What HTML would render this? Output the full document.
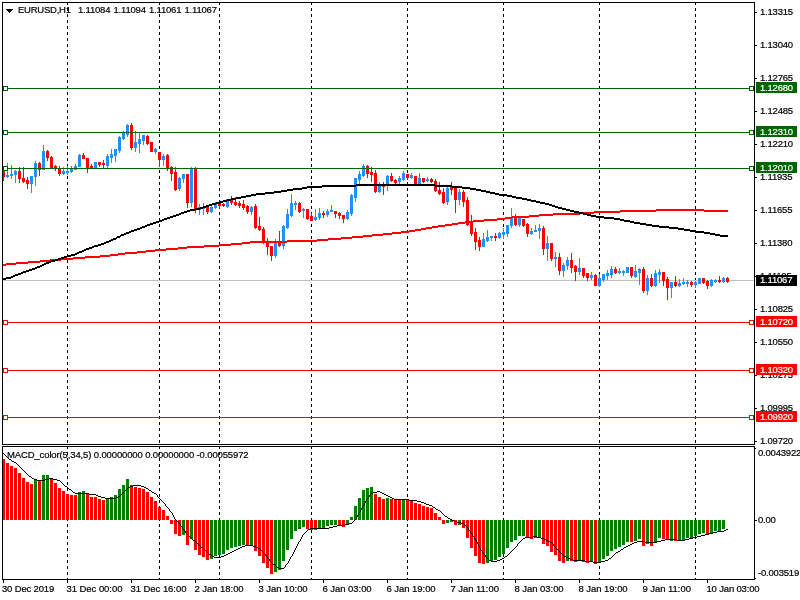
<!DOCTYPE html>
<html><head><meta charset="utf-8"><title>EURUSD,H1</title>
<style>
html,body{margin:0;padding:0;background:#fff;}
body{width:800px;height:600px;position:relative;overflow:hidden;font-family:"Liberation Sans",sans-serif;}
svg{position:absolute;left:0;top:0;}
.t{position:absolute;white-space:nowrap;color:#000;font-size:9.5px;line-height:12px;height:12px;letter-spacing:-0.2px;-webkit-text-stroke:0.2px #000;}
.w{color:#fff;-webkit-text-stroke:0.2px #fff;}
#under{position:absolute;left:0;top:0;width:800px;height:600px;}
</style></head><body>
<div id="under">
<div class="t p" style="left:760px;top:6.4px;">1.13315</div>
<div class="t p" style="left:760px;top:39.4px;">1.13040</div>
<div class="t p" style="left:760px;top:72.4px;">1.12765</div>
<div class="t p" style="left:760px;top:105.4px;">1.12485</div>
<div class="t p" style="left:760px;top:138.4px;">1.12210</div>
<div class="t p" style="left:760px;top:171.4px;">1.11935</div>
<div class="t p" style="left:760px;top:204.4px;">1.11655</div>
<div class="t p" style="left:760px;top:237.4px;">1.11380</div>
<div class="t p" style="left:760px;top:270.4px;">1.11105</div>
<div class="t p" style="left:760px;top:303.4px;">1.10825</div>
<div class="t p" style="left:760px;top:336.4px;">1.10550</div>
<div class="t p" style="left:760px;top:369.4px;">1.10275</div>
<div class="t p" style="left:760px;top:402.4px;">1.09995</div>
<div class="t p" style="left:760px;top:435.4px;">1.09720</div>
<div class="t p" style="left:758px;top:447.4px;">0.0043922</div>
<div class="t p" style="left:758px;top:514.4px;">0.00</div>
<div class="t p" style="left:758px;top:567px;">-0.003519</div>
<div class="t p" style="left:2.0px;top:583px;letter-spacing:-0.17px">30 Dec 2019</div>
<div class="t p" style="left:66.5px;top:583px;letter-spacing:-0.05px">31 Dec 00:00</div>
<div class="t p" style="left:130.5px;top:583px;letter-spacing:-0.05px">31 Dec 16:00</div>
<div class="t p" style="left:194.5px;top:583px;letter-spacing:-0.05px">2 Jan 18:00</div>
<div class="t p" style="left:258.5px;top:583px;letter-spacing:-0.05px">3 Jan 10:00</div>
<div class="t p" style="left:322.5px;top:583px;letter-spacing:-0.05px">6 Jan 03:00</div>
<div class="t p" style="left:386.5px;top:583px;letter-spacing:-0.05px">6 Jan 19:00</div>
<div class="t p" style="left:450.5px;top:583px;letter-spacing:-0.05px">7 Jan 11:00</div>
<div class="t p" style="left:514.5px;top:583px;letter-spacing:-0.05px">8 Jan 03:00</div>
<div class="t p" style="left:578.5px;top:583px;letter-spacing:-0.05px">8 Jan 19:00</div>
<div class="t p" style="left:642.5px;top:583px;letter-spacing:-0.05px">9 Jan 11:00</div>
<div class="t p" style="left:706.5px;top:583px;letter-spacing:-0.17px">10 Jan 03:00</div>
<div class="t p" style="left:18px;top:4px;letter-spacing:-0.24px">EURUSD,H1</div>
<div class="t p" style="left:78px;top:4px;">1.11084</div>
<div class="t p" style="left:113.5px;top:4px;">1.11094</div>
<div class="t p" style="left:149px;top:4px;">1.11061</div>
<div class="t p" style="left:184.5px;top:4px;">1.11067</div>
<div class="t p" style="left:7px;top:449px;letter-spacing:-0.13px">MACD_color(5,34,5) 0.00000000 0.00000000 -0.00055972</div>
</div>
<svg width="800" height="600" viewBox="0 0 800 600" shape-rendering="crispEdges">
<g fill="#000">
<rect x="2" y="2" width="753" height="1"/>
<rect x="2" y="2" width="1" height="443"/>
<rect x="754" y="2" width="1" height="443"/>
<rect x="2" y="444" width="753" height="1"/>
<rect x="2" y="446" width="753" height="1"/>
<rect x="2" y="446" width="1" height="134"/>
<rect x="754" y="446" width="1" height="134"/>
<rect x="2" y="579" width="753" height="1"/>
<rect x="755" y="12" width="2" height="1"/>
<rect x="755" y="45" width="2" height="1"/>
<rect x="755" y="78" width="2" height="1"/>
<rect x="755" y="111" width="2" height="1"/>
<rect x="755" y="144" width="2" height="1"/>
<rect x="755" y="177" width="2" height="1"/>
<rect x="755" y="210" width="2" height="1"/>
<rect x="755" y="243" width="2" height="1"/>
<rect x="755" y="276" width="2" height="1"/>
<rect x="755" y="309" width="2" height="1"/>
<rect x="755" y="342" width="2" height="1"/>
<rect x="755" y="375" width="2" height="1"/>
<rect x="755" y="408" width="2" height="1"/>
<rect x="755" y="441" width="2" height="1"/>
<rect x="755" y="448" width="1" height="1"/>
<rect x="755" y="520" width="2" height="1"/>
<rect x="755" y="578" width="1" height="1"/>
<rect x="3" y="580" width="1" height="3"/>
<rect x="67" y="580" width="1" height="3"/>
<rect x="131" y="580" width="1" height="3"/>
<rect x="195" y="580" width="1" height="3"/>
<rect x="259" y="580" width="1" height="3"/>
<rect x="323" y="580" width="1" height="3"/>
<rect x="387" y="580" width="1" height="3"/>
<rect x="451" y="580" width="1" height="3"/>
<rect x="515" y="580" width="1" height="3"/>
<rect x="579" y="580" width="1" height="3"/>
<rect x="643" y="580" width="1" height="3"/>
<rect x="707" y="580" width="1" height="3"/>
</g>
<g stroke="#000" stroke-width="1" stroke-dasharray="3 3" fill="none">
<line x1="67.5" y1="2" x2="67.5" y2="444"/>
<line x1="67.5" y1="446" x2="67.5" y2="579"/>
<line x1="159.5" y1="2" x2="159.5" y2="444"/>
<line x1="159.5" y1="446" x2="159.5" y2="579"/>
<line x1="219.5" y1="2" x2="219.5" y2="444"/>
<line x1="219.5" y1="446" x2="219.5" y2="579"/>
<line x1="311.5" y1="2" x2="311.5" y2="444"/>
<line x1="311.5" y1="446" x2="311.5" y2="579"/>
<line x1="407.5" y1="2" x2="407.5" y2="444"/>
<line x1="407.5" y1="446" x2="407.5" y2="579"/>
<line x1="503.5" y1="2" x2="503.5" y2="444"/>
<line x1="503.5" y1="446" x2="503.5" y2="579"/>
<line x1="599.5" y1="2" x2="599.5" y2="444"/>
<line x1="599.5" y1="446" x2="599.5" y2="579"/>
<line x1="695.5" y1="2" x2="695.5" y2="444"/>
<line x1="695.5" y1="446" x2="695.5" y2="579"/>
</g>
<rect x="3" y="280" width="751" height="1" fill="#c0c0c0"/>
<g>
<rect x="3" y="169" width="1" height="12" fill="#ff0000"/>
<rect x="3" y="170" width="2" height="7" fill="#ff0000"/>
<rect x="7" y="163" width="1" height="15" fill="#1e90ff"/>
<rect x="6" y="175" width="3" height="2" fill="#1e90ff"/>
<rect x="11" y="165" width="1" height="14" fill="#1e90ff"/>
<rect x="10" y="174" width="3" height="2" fill="#1e90ff"/>
<rect x="15" y="170" width="1" height="13" fill="#1e90ff"/>
<rect x="14" y="171" width="3" height="4" fill="#1e90ff"/>
<rect x="19" y="167" width="1" height="16" fill="#ff0000"/>
<rect x="18" y="171" width="3" height="8" fill="#ff0000"/>
<rect x="23" y="167" width="1" height="16" fill="#ff0000"/>
<rect x="22" y="178" width="3" height="4" fill="#ff0000"/>
<rect x="27" y="177" width="1" height="12" fill="#ff0000"/>
<rect x="26" y="180" width="3" height="4" fill="#ff0000"/>
<rect x="31" y="176" width="1" height="17" fill="#1e90ff"/>
<rect x="30" y="176" width="3" height="8" fill="#1e90ff"/>
<rect x="35" y="161" width="1" height="25" fill="#1e90ff"/>
<rect x="34" y="163" width="3" height="14" fill="#1e90ff"/>
<rect x="39" y="162" width="1" height="14" fill="#ff0000"/>
<rect x="38" y="163" width="3" height="7" fill="#ff0000"/>
<rect x="43" y="145" width="1" height="25" fill="#1e90ff"/>
<rect x="42" y="151" width="3" height="19" fill="#1e90ff"/>
<rect x="47" y="150" width="1" height="11" fill="#ff0000"/>
<rect x="46" y="151" width="3" height="7" fill="#ff0000"/>
<rect x="51" y="156" width="1" height="13" fill="#ff0000"/>
<rect x="50" y="157" width="3" height="12" fill="#ff0000"/>
<rect x="55" y="165" width="1" height="6" fill="#ff0000"/>
<rect x="54" y="166" width="3" height="3" fill="#ff0000"/>
<rect x="59" y="166" width="1" height="10" fill="#ff0000"/>
<rect x="58" y="169" width="3" height="5" fill="#ff0000"/>
<rect x="63" y="167" width="1" height="8" fill="#1e90ff"/>
<rect x="62" y="171" width="3" height="3" fill="#1e90ff"/>
<rect x="67" y="166" width="1" height="9" fill="#1e90ff"/>
<rect x="66" y="171" width="3" height="2" fill="#1e90ff"/>
<rect x="71" y="166" width="1" height="7" fill="#1e90ff"/>
<rect x="70" y="168" width="3" height="4" fill="#1e90ff"/>
<rect x="75" y="164" width="1" height="6" fill="#1e90ff"/>
<rect x="74" y="166" width="3" height="4" fill="#1e90ff"/>
<rect x="79" y="154" width="1" height="13" fill="#1e90ff"/>
<rect x="78" y="155" width="3" height="12" fill="#1e90ff"/>
<rect x="83" y="153" width="1" height="6" fill="#ff0000"/>
<rect x="82" y="155" width="3" height="4" fill="#ff0000"/>
<rect x="87" y="158" width="1" height="15" fill="#ff0000"/>
<rect x="86" y="158" width="3" height="10" fill="#ff0000"/>
<rect x="91" y="164" width="1" height="5" fill="#ff0000"/>
<rect x="90" y="166" width="3" height="2" fill="#ff0000"/>
<rect x="95" y="162" width="1" height="7" fill="#1e90ff"/>
<rect x="94" y="162" width="3" height="6" fill="#1e90ff"/>
<rect x="99" y="162" width="1" height="5" fill="#ff0000"/>
<rect x="98" y="162" width="3" height="3" fill="#ff0000"/>
<rect x="103" y="160" width="1" height="8" fill="#ff0000"/>
<rect x="102" y="163" width="3" height="2" fill="#ff0000"/>
<rect x="107" y="154" width="1" height="14" fill="#1e90ff"/>
<rect x="106" y="156" width="3" height="10" fill="#1e90ff"/>
<rect x="111" y="149" width="1" height="14" fill="#1e90ff"/>
<rect x="110" y="154" width="3" height="4" fill="#1e90ff"/>
<rect x="115" y="149" width="1" height="13" fill="#1e90ff"/>
<rect x="114" y="149" width="3" height="7" fill="#1e90ff"/>
<rect x="119" y="136" width="1" height="17" fill="#1e90ff"/>
<rect x="118" y="137" width="3" height="14" fill="#1e90ff"/>
<rect x="123" y="131" width="1" height="9" fill="#1e90ff"/>
<rect x="122" y="132" width="3" height="7" fill="#1e90ff"/>
<rect x="127" y="124" width="1" height="13" fill="#1e90ff"/>
<rect x="126" y="125" width="3" height="10" fill="#1e90ff"/>
<rect x="131" y="123" width="1" height="27" fill="#ff0000"/>
<rect x="130" y="125" width="3" height="23" fill="#ff0000"/>
<rect x="135" y="131" width="1" height="21" fill="#1e90ff"/>
<rect x="134" y="142" width="3" height="6" fill="#1e90ff"/>
<rect x="139" y="133" width="1" height="20" fill="#1e90ff"/>
<rect x="138" y="139" width="3" height="5" fill="#1e90ff"/>
<rect x="143" y="135" width="1" height="10" fill="#1e90ff"/>
<rect x="142" y="135" width="3" height="6" fill="#1e90ff"/>
<rect x="147" y="135" width="1" height="10" fill="#ff0000"/>
<rect x="146" y="136" width="3" height="8" fill="#ff0000"/>
<rect x="151" y="142" width="1" height="10" fill="#ff0000"/>
<rect x="150" y="142" width="3" height="10" fill="#ff0000"/>
<rect x="155" y="148" width="1" height="6" fill="#1e90ff"/>
<rect x="154" y="149" width="3" height="3" fill="#1e90ff"/>
<rect x="159" y="152" width="1" height="15" fill="#ff0000"/>
<rect x="158" y="152" width="3" height="8" fill="#ff0000"/>
<rect x="163" y="154" width="1" height="12" fill="#1e90ff"/>
<rect x="162" y="156" width="3" height="4" fill="#1e90ff"/>
<rect x="167" y="154" width="1" height="17" fill="#ff0000"/>
<rect x="166" y="155" width="3" height="13" fill="#ff0000"/>
<rect x="171" y="166" width="1" height="15" fill="#ff0000"/>
<rect x="170" y="167" width="3" height="7" fill="#ff0000"/>
<rect x="175" y="167" width="1" height="24" fill="#ff0000"/>
<rect x="174" y="172" width="3" height="18" fill="#ff0000"/>
<rect x="179" y="177" width="1" height="14" fill="#1e90ff"/>
<rect x="178" y="178" width="3" height="11" fill="#1e90ff"/>
<rect x="183" y="174" width="1" height="9" fill="#1e90ff"/>
<rect x="182" y="174" width="3" height="5" fill="#1e90ff"/>
<rect x="187" y="174" width="1" height="34" fill="#ff0000"/>
<rect x="186" y="174" width="3" height="29" fill="#ff0000"/>
<rect x="191" y="167" width="1" height="40" fill="#1e90ff"/>
<rect x="190" y="168" width="3" height="35" fill="#1e90ff"/>
<rect x="195" y="167" width="1" height="46" fill="#ff0000"/>
<rect x="194" y="168" width="3" height="42" fill="#ff0000"/>
<rect x="199" y="204" width="1" height="11" fill="#1e90ff"/>
<rect x="198" y="207" width="3" height="3" fill="#1e90ff"/>
<rect x="203" y="203" width="1" height="12" fill="#1e90ff"/>
<rect x="202" y="207" width="3" height="2" fill="#1e90ff"/>
<rect x="207" y="206" width="1" height="8" fill="#ff0000"/>
<rect x="206" y="207" width="3" height="5" fill="#ff0000"/>
<rect x="211" y="206" width="1" height="7" fill="#1e90ff"/>
<rect x="210" y="207" width="3" height="5" fill="#1e90ff"/>
<rect x="215" y="202" width="1" height="7" fill="#1e90ff"/>
<rect x="214" y="203" width="3" height="5" fill="#1e90ff"/>
<rect x="219" y="202" width="1" height="7" fill="#ff0000"/>
<rect x="218" y="203" width="3" height="3" fill="#ff0000"/>
<rect x="223" y="203" width="1" height="4" fill="#ff0000"/>
<rect x="222" y="204" width="3" height="2" fill="#ff0000"/>
<rect x="227" y="199" width="1" height="9" fill="#1e90ff"/>
<rect x="226" y="199" width="3" height="8" fill="#1e90ff"/>
<rect x="231" y="196" width="1" height="9" fill="#ff0000"/>
<rect x="230" y="199" width="3" height="4" fill="#ff0000"/>
<rect x="235" y="197" width="1" height="9" fill="#ff0000"/>
<rect x="234" y="202" width="3" height="3" fill="#ff0000"/>
<rect x="239" y="201" width="1" height="7" fill="#ff0000"/>
<rect x="238" y="203" width="3" height="3" fill="#ff0000"/>
<rect x="243" y="200" width="1" height="10" fill="#ff0000"/>
<rect x="242" y="204" width="3" height="4" fill="#ff0000"/>
<rect x="247" y="205" width="1" height="9" fill="#ff0000"/>
<rect x="246" y="206" width="3" height="6" fill="#ff0000"/>
<rect x="251" y="206" width="1" height="9" fill="#1e90ff"/>
<rect x="250" y="207" width="3" height="5" fill="#1e90ff"/>
<rect x="255" y="204" width="1" height="25" fill="#ff0000"/>
<rect x="254" y="206" width="3" height="22" fill="#ff0000"/>
<rect x="259" y="217" width="1" height="14" fill="#ff0000"/>
<rect x="258" y="226" width="3" height="4" fill="#ff0000"/>
<rect x="263" y="227" width="1" height="17" fill="#ff0000"/>
<rect x="262" y="229" width="3" height="14" fill="#ff0000"/>
<rect x="267" y="238" width="1" height="17" fill="#ff0000"/>
<rect x="266" y="242" width="3" height="5" fill="#ff0000"/>
<rect x="271" y="246" width="1" height="15" fill="#ff0000"/>
<rect x="270" y="246" width="3" height="10" fill="#ff0000"/>
<rect x="275" y="239" width="1" height="19" fill="#1e90ff"/>
<rect x="274" y="243" width="3" height="13" fill="#1e90ff"/>
<rect x="279" y="231" width="1" height="16" fill="#ff0000"/>
<rect x="278" y="243" width="3" height="3" fill="#ff0000"/>
<rect x="283" y="225" width="1" height="24" fill="#1e90ff"/>
<rect x="282" y="226" width="3" height="20" fill="#1e90ff"/>
<rect x="287" y="209" width="1" height="20" fill="#1e90ff"/>
<rect x="286" y="214" width="3" height="14" fill="#1e90ff"/>
<rect x="291" y="194" width="1" height="23" fill="#1e90ff"/>
<rect x="290" y="203" width="3" height="13" fill="#1e90ff"/>
<rect x="295" y="201" width="1" height="9" fill="#1e90ff"/>
<rect x="294" y="203" width="3" height="2" fill="#1e90ff"/>
<rect x="299" y="202" width="1" height="11" fill="#ff0000"/>
<rect x="298" y="203" width="3" height="9" fill="#ff0000"/>
<rect x="303" y="208" width="1" height="10" fill="#1e90ff"/>
<rect x="302" y="209" width="3" height="2" fill="#1e90ff"/>
<rect x="307" y="209" width="1" height="11" fill="#ff0000"/>
<rect x="306" y="209" width="3" height="10" fill="#ff0000"/>
<rect x="311" y="213" width="1" height="8" fill="#ff0000"/>
<rect x="310" y="216" width="3" height="5" fill="#ff0000"/>
<rect x="315" y="209" width="1" height="12" fill="#1e90ff"/>
<rect x="314" y="217" width="3" height="3" fill="#1e90ff"/>
<rect x="319" y="208" width="1" height="12" fill="#1e90ff"/>
<rect x="318" y="213" width="3" height="5" fill="#1e90ff"/>
<rect x="323" y="211" width="1" height="7" fill="#ff0000"/>
<rect x="322" y="213" width="3" height="2" fill="#ff0000"/>
<rect x="327" y="209" width="1" height="8" fill="#1e90ff"/>
<rect x="326" y="211" width="3" height="4" fill="#1e90ff"/>
<rect x="331" y="205" width="1" height="7" fill="#1e90ff"/>
<rect x="330" y="210" width="3" height="2" fill="#1e90ff"/>
<rect x="335" y="211" width="1" height="7" fill="#ff0000"/>
<rect x="334" y="211" width="3" height="3" fill="#ff0000"/>
<rect x="339" y="212" width="1" height="7" fill="#ff0000"/>
<rect x="338" y="213" width="3" height="3" fill="#ff0000"/>
<rect x="343" y="215" width="1" height="8" fill="#ff0000"/>
<rect x="342" y="215" width="3" height="4" fill="#ff0000"/>
<rect x="347" y="210" width="1" height="10" fill="#1e90ff"/>
<rect x="346" y="212" width="3" height="7" fill="#1e90ff"/>
<rect x="351" y="194" width="1" height="22" fill="#1e90ff"/>
<rect x="350" y="195" width="3" height="19" fill="#1e90ff"/>
<rect x="355" y="178" width="1" height="24" fill="#1e90ff"/>
<rect x="354" y="178" width="3" height="20" fill="#1e90ff"/>
<rect x="359" y="171" width="1" height="13" fill="#1e90ff"/>
<rect x="358" y="174" width="3" height="6" fill="#1e90ff"/>
<rect x="363" y="164" width="1" height="13" fill="#1e90ff"/>
<rect x="362" y="166" width="3" height="10" fill="#1e90ff"/>
<rect x="367" y="165" width="1" height="13" fill="#ff0000"/>
<rect x="366" y="166" width="3" height="8" fill="#ff0000"/>
<rect x="371" y="167" width="1" height="15" fill="#ff0000"/>
<rect x="370" y="172" width="3" height="3" fill="#ff0000"/>
<rect x="375" y="170" width="1" height="23" fill="#ff0000"/>
<rect x="374" y="173" width="3" height="19" fill="#ff0000"/>
<rect x="379" y="182" width="1" height="11" fill="#1e90ff"/>
<rect x="378" y="186" width="3" height="6" fill="#1e90ff"/>
<rect x="383" y="182" width="1" height="13" fill="#ff0000"/>
<rect x="382" y="184" width="3" height="3" fill="#ff0000"/>
<rect x="387" y="175" width="1" height="16" fill="#1e90ff"/>
<rect x="386" y="176" width="3" height="10" fill="#1e90ff"/>
<rect x="391" y="173" width="1" height="9" fill="#ff0000"/>
<rect x="390" y="176" width="3" height="5" fill="#ff0000"/>
<rect x="395" y="179" width="1" height="6" fill="#ff0000"/>
<rect x="394" y="180" width="3" height="3" fill="#ff0000"/>
<rect x="399" y="176" width="1" height="9" fill="#1e90ff"/>
<rect x="398" y="178" width="3" height="4" fill="#1e90ff"/>
<rect x="403" y="171" width="1" height="10" fill="#1e90ff"/>
<rect x="402" y="173" width="3" height="7" fill="#1e90ff"/>
<rect x="407" y="174" width="1" height="6" fill="#ff0000"/>
<rect x="406" y="174" width="3" height="4" fill="#ff0000"/>
<rect x="411" y="173" width="1" height="6" fill="#1e90ff"/>
<rect x="410" y="175" width="3" height="3" fill="#1e90ff"/>
<rect x="415" y="176" width="1" height="9" fill="#ff0000"/>
<rect x="414" y="176" width="3" height="8" fill="#ff0000"/>
<rect x="419" y="173" width="1" height="11" fill="#1e90ff"/>
<rect x="418" y="178" width="3" height="6" fill="#1e90ff"/>
<rect x="423" y="178" width="1" height="5" fill="#ff0000"/>
<rect x="422" y="178" width="3" height="4" fill="#ff0000"/>
<rect x="427" y="177" width="1" height="5" fill="#1e90ff"/>
<rect x="426" y="179" width="3" height="2" fill="#1e90ff"/>
<rect x="431" y="178" width="1" height="5" fill="#ff0000"/>
<rect x="430" y="179" width="3" height="3" fill="#ff0000"/>
<rect x="435" y="179" width="1" height="13" fill="#ff0000"/>
<rect x="434" y="181" width="3" height="10" fill="#ff0000"/>
<rect x="439" y="182" width="1" height="13" fill="#ff0000"/>
<rect x="438" y="190" width="3" height="4" fill="#ff0000"/>
<rect x="443" y="188" width="1" height="16" fill="#ff0000"/>
<rect x="442" y="192" width="3" height="11" fill="#ff0000"/>
<rect x="447" y="185" width="1" height="20" fill="#1e90ff"/>
<rect x="446" y="188" width="3" height="14" fill="#1e90ff"/>
<rect x="451" y="182" width="1" height="13" fill="#ff0000"/>
<rect x="450" y="186" width="3" height="4" fill="#ff0000"/>
<rect x="455" y="187" width="1" height="26" fill="#ff0000"/>
<rect x="454" y="187" width="3" height="13" fill="#ff0000"/>
<rect x="459" y="189" width="1" height="16" fill="#1e90ff"/>
<rect x="458" y="192" width="3" height="8" fill="#1e90ff"/>
<rect x="463" y="190" width="1" height="17" fill="#ff0000"/>
<rect x="462" y="192" width="3" height="10" fill="#ff0000"/>
<rect x="467" y="197" width="1" height="29" fill="#ff0000"/>
<rect x="466" y="200" width="3" height="25" fill="#ff0000"/>
<rect x="471" y="215" width="1" height="21" fill="#ff0000"/>
<rect x="470" y="222" width="3" height="12" fill="#ff0000"/>
<rect x="475" y="228" width="1" height="22" fill="#ff0000"/>
<rect x="474" y="232" width="3" height="10" fill="#ff0000"/>
<rect x="479" y="237" width="1" height="14" fill="#ff0000"/>
<rect x="478" y="240" width="3" height="7" fill="#ff0000"/>
<rect x="483" y="233" width="1" height="14" fill="#1e90ff"/>
<rect x="482" y="239" width="3" height="8" fill="#1e90ff"/>
<rect x="487" y="230" width="1" height="12" fill="#1e90ff"/>
<rect x="486" y="237" width="3" height="4" fill="#1e90ff"/>
<rect x="491" y="236" width="1" height="5" fill="#1e90ff"/>
<rect x="490" y="236" width="3" height="2" fill="#1e90ff"/>
<rect x="495" y="233" width="1" height="8" fill="#ff0000"/>
<rect x="494" y="236" width="3" height="2" fill="#ff0000"/>
<rect x="499" y="232" width="1" height="7" fill="#1e90ff"/>
<rect x="498" y="233" width="3" height="5" fill="#1e90ff"/>
<rect x="503" y="228" width="1" height="11" fill="#1e90ff"/>
<rect x="502" y="232" width="3" height="3" fill="#1e90ff"/>
<rect x="507" y="225" width="1" height="12" fill="#1e90ff"/>
<rect x="506" y="225" width="3" height="9" fill="#1e90ff"/>
<rect x="511" y="208" width="1" height="20" fill="#1e90ff"/>
<rect x="510" y="218" width="3" height="8" fill="#1e90ff"/>
<rect x="515" y="214" width="1" height="12" fill="#ff0000"/>
<rect x="514" y="218" width="3" height="7" fill="#ff0000"/>
<rect x="519" y="216" width="1" height="11" fill="#1e90ff"/>
<rect x="518" y="218" width="3" height="7" fill="#1e90ff"/>
<rect x="523" y="219" width="1" height="8" fill="#ff0000"/>
<rect x="522" y="219" width="3" height="7" fill="#ff0000"/>
<rect x="527" y="223" width="1" height="14" fill="#ff0000"/>
<rect x="526" y="224" width="3" height="10" fill="#ff0000"/>
<rect x="531" y="228" width="1" height="7" fill="#1e90ff"/>
<rect x="530" y="231" width="3" height="3" fill="#1e90ff"/>
<rect x="535" y="225" width="1" height="7" fill="#1e90ff"/>
<rect x="534" y="230" width="3" height="2" fill="#1e90ff"/>
<rect x="539" y="224" width="1" height="15" fill="#1e90ff"/>
<rect x="538" y="228" width="3" height="3" fill="#1e90ff"/>
<rect x="543" y="226" width="1" height="29" fill="#ff0000"/>
<rect x="542" y="228" width="3" height="21" fill="#ff0000"/>
<rect x="547" y="236" width="1" height="25" fill="#1e90ff"/>
<rect x="546" y="243" width="3" height="6" fill="#1e90ff"/>
<rect x="551" y="243" width="1" height="18" fill="#ff0000"/>
<rect x="550" y="243" width="3" height="16" fill="#ff0000"/>
<rect x="555" y="252" width="1" height="15" fill="#1e90ff"/>
<rect x="554" y="257" width="3" height="2" fill="#1e90ff"/>
<rect x="559" y="253" width="1" height="22" fill="#ff0000"/>
<rect x="558" y="257" width="3" height="14" fill="#ff0000"/>
<rect x="563" y="263" width="1" height="14" fill="#1e90ff"/>
<rect x="562" y="265" width="3" height="6" fill="#1e90ff"/>
<rect x="567" y="257" width="1" height="13" fill="#1e90ff"/>
<rect x="566" y="260" width="3" height="6" fill="#1e90ff"/>
<rect x="571" y="253" width="1" height="20" fill="#ff0000"/>
<rect x="570" y="260" width="3" height="8" fill="#ff0000"/>
<rect x="575" y="265" width="1" height="16" fill="#ff0000"/>
<rect x="574" y="266" width="3" height="6" fill="#ff0000"/>
<rect x="579" y="258" width="1" height="17" fill="#1e90ff"/>
<rect x="578" y="268" width="3" height="4" fill="#1e90ff"/>
<rect x="583" y="268" width="1" height="10" fill="#ff0000"/>
<rect x="582" y="268" width="3" height="8" fill="#ff0000"/>
<rect x="587" y="273" width="1" height="8" fill="#ff0000"/>
<rect x="586" y="273" width="3" height="5" fill="#ff0000"/>
<rect x="591" y="272" width="1" height="8" fill="#1e90ff"/>
<rect x="590" y="275" width="3" height="3" fill="#1e90ff"/>
<rect x="595" y="274" width="1" height="12" fill="#ff0000"/>
<rect x="594" y="275" width="3" height="11" fill="#ff0000"/>
<rect x="599" y="274" width="1" height="13" fill="#1e90ff"/>
<rect x="598" y="278" width="3" height="8" fill="#1e90ff"/>
<rect x="603" y="274" width="1" height="8" fill="#1e90ff"/>
<rect x="602" y="274" width="3" height="6" fill="#1e90ff"/>
<rect x="607" y="270" width="1" height="10" fill="#1e90ff"/>
<rect x="606" y="273" width="3" height="3" fill="#1e90ff"/>
<rect x="611" y="266" width="1" height="12" fill="#1e90ff"/>
<rect x="610" y="269" width="3" height="6" fill="#1e90ff"/>
<rect x="615" y="267" width="1" height="7" fill="#ff0000"/>
<rect x="614" y="269" width="3" height="4" fill="#ff0000"/>
<rect x="619" y="268" width="1" height="6" fill="#1e90ff"/>
<rect x="618" y="271" width="3" height="2" fill="#1e90ff"/>
<rect x="623" y="270" width="1" height="6" fill="#1e90ff"/>
<rect x="622" y="271" width="3" height="2" fill="#1e90ff"/>
<rect x="627" y="267" width="1" height="6" fill="#1e90ff"/>
<rect x="626" y="267" width="3" height="6" fill="#1e90ff"/>
<rect x="631" y="267" width="1" height="11" fill="#ff0000"/>
<rect x="630" y="267" width="3" height="9" fill="#ff0000"/>
<rect x="635" y="265" width="1" height="13" fill="#1e90ff"/>
<rect x="634" y="271" width="3" height="6" fill="#1e90ff"/>
<rect x="639" y="268" width="1" height="17" fill="#1e90ff"/>
<rect x="638" y="269" width="3" height="4" fill="#1e90ff"/>
<rect x="643" y="267" width="1" height="26" fill="#ff0000"/>
<rect x="642" y="269" width="3" height="22" fill="#ff0000"/>
<rect x="647" y="275" width="1" height="20" fill="#1e90ff"/>
<rect x="646" y="278" width="3" height="13" fill="#1e90ff"/>
<rect x="651" y="274" width="1" height="13" fill="#ff0000"/>
<rect x="650" y="278" width="3" height="8" fill="#ff0000"/>
<rect x="655" y="270" width="1" height="17" fill="#1e90ff"/>
<rect x="654" y="273" width="3" height="13" fill="#1e90ff"/>
<rect x="659" y="269" width="1" height="14" fill="#1e90ff"/>
<rect x="658" y="272" width="3" height="3" fill="#1e90ff"/>
<rect x="663" y="272" width="1" height="14" fill="#ff0000"/>
<rect x="662" y="272" width="3" height="9" fill="#ff0000"/>
<rect x="667" y="277" width="1" height="23" fill="#ff0000"/>
<rect x="666" y="279" width="3" height="9" fill="#ff0000"/>
<rect x="671" y="282" width="1" height="16" fill="#1e90ff"/>
<rect x="670" y="282" width="3" height="6" fill="#1e90ff"/>
<rect x="675" y="276" width="1" height="11" fill="#ff0000"/>
<rect x="674" y="282" width="3" height="4" fill="#ff0000"/>
<rect x="679" y="279" width="1" height="8" fill="#1e90ff"/>
<rect x="678" y="283" width="3" height="3" fill="#1e90ff"/>
<rect x="683" y="278" width="1" height="7" fill="#1e90ff"/>
<rect x="682" y="282" width="3" height="2" fill="#1e90ff"/>
<rect x="687" y="280" width="1" height="7" fill="#1e90ff"/>
<rect x="686" y="282" width="3" height="2" fill="#1e90ff"/>
<rect x="691" y="281" width="1" height="6" fill="#ff0000"/>
<rect x="690" y="282" width="3" height="3" fill="#ff0000"/>
<rect x="695" y="281" width="1" height="7" fill="#1e90ff"/>
<rect x="694" y="282" width="3" height="3" fill="#1e90ff"/>
<rect x="699" y="278" width="1" height="6" fill="#1e90ff"/>
<rect x="698" y="278" width="3" height="6" fill="#1e90ff"/>
<rect x="703" y="278" width="1" height="6" fill="#ff0000"/>
<rect x="702" y="278" width="3" height="5" fill="#ff0000"/>
<rect x="707" y="280" width="1" height="9" fill="#ff0000"/>
<rect x="706" y="281" width="3" height="5" fill="#ff0000"/>
<rect x="711" y="279" width="1" height="8" fill="#1e90ff"/>
<rect x="710" y="280" width="3" height="6" fill="#1e90ff"/>
<rect x="715" y="279" width="1" height="4" fill="#1e90ff"/>
<rect x="714" y="280" width="3" height="2" fill="#1e90ff"/>
<rect x="719" y="276" width="1" height="7" fill="#ff0000"/>
<rect x="718" y="280" width="3" height="2" fill="#ff0000"/>
<rect x="723" y="277" width="1" height="6" fill="#1e90ff"/>
<rect x="722" y="278" width="3" height="4" fill="#1e90ff"/>
<rect x="727" y="277" width="1" height="6" fill="#ff0000"/>
<rect x="726" y="278" width="3" height="4" fill="#ff0000"/>
</g>
<path d="M3 264h3v2h-3zM6 263h10v2h-10zM16 262h12v2h-12zM28 261h12v2h-12zM40 260h10v2h-10zM50 259h11v2h-11zM61 258h12v2h-12zM73 257h12v2h-12zM85 256h15v2h-15zM100 255h10v2h-10zM110 254h8v2h-8zM118 253h7v2h-7zM125 252h12v2h-12zM137 251h9v2h-9zM146 250h9v2h-9zM155 249h11v2h-11zM166 248h12v2h-12zM178 247h9v2h-9zM187 246h17v2h-17zM204 245h15v2h-15zM219 244h12v2h-12zM231 243h11v2h-11zM242 242h8v2h-8zM250 241h37v2h-37zM287 240h30v2h-30zM317 239h11v2h-11zM328 238h13v2h-13zM341 237h11v2h-11zM352 236h11v2h-11zM363 235h9v2h-9zM372 234h11v2h-11zM383 233h9v2h-9zM392 232h9v2h-9zM401 231h8v2h-8zM409 230h6v2h-6zM415 229h6v2h-6zM421 228h5v2h-5zM426 227h6v2h-6zM432 226h6v2h-6zM438 225h7v2h-7zM445 224h7v2h-7zM452 223h6v2h-6zM458 222h7v2h-7zM465 221h8v2h-8zM473 220h11v2h-11zM484 219h13v2h-13zM497 218h8v2h-8zM505 217h7v2h-7zM512 216h17v2h-17zM529 215h10v2h-10zM539 214h14v2h-14zM553 213h27v2h-27zM580 212h14v2h-14zM594 211h26v2h-26zM620 210h36v2h-36zM656 209h48v2h-48zM704 210h24v2h-24z" fill="#ff0000"/>
<path d="M3 278h3v2h-3zM6 277h5v2h-5zM11 276h2v2h-2zM13 275h2v2h-2zM15 274h3v2h-3zM18 273h3v2h-3zM21 272h2v2h-2zM23 271h3v2h-3zM26 270h3v2h-3zM29 269h3v2h-3zM32 268h3v2h-3zM35 267h2v2h-2zM37 266h3v2h-3zM40 265h2v2h-2zM42 264h2v2h-2zM44 263h2v2h-2zM46 262h3v2h-3zM49 261h2v2h-2zM51 260h4v2h-4zM55 259h3v2h-3zM58 258h3v2h-3zM61 257h3v2h-3zM64 256h3v2h-3zM67 255h4v2h-4zM71 254h4v2h-4zM75 253h2v2h-2zM77 252h2v2h-2zM79 251h3v2h-3zM82 250h2v2h-2zM84 249h2v2h-2zM86 248h3v2h-3zM89 247h3v2h-3zM92 246h2v2h-2zM94 245h4v2h-4zM98 244h3v2h-3zM101 243h3v2h-3zM104 242h2v2h-2zM106 241h3v2h-3zM109 240h2v2h-2zM111 239h2v2h-2zM113 238h3v2h-3zM116 237h1v2h-1zM117 236h3v2h-3zM120 235h1v2h-1zM121 234h3v2h-3zM124 233h2v2h-2zM126 232h3v2h-3zM129 231h2v2h-2zM131 230h3v2h-3zM134 229h3v2h-3zM137 228h3v2h-3zM140 227h2v2h-2zM142 226h3v2h-3zM145 225h2v2h-2zM147 224h3v2h-3zM150 223h3v2h-3zM153 222h3v2h-3zM156 221h3v2h-3zM159 220h3v2h-3zM162 219h2v2h-2zM164 218h3v2h-3zM167 217h3v2h-3zM170 216h3v2h-3zM173 215h3v2h-3zM176 214h3v2h-3zM179 213h2v2h-2zM181 212h3v2h-3zM184 211h3v2h-3zM187 210h3v2h-3zM190 209h5v2h-5zM195 208h5v2h-5zM200 207h3v2h-3zM203 206h3v2h-3zM206 205h3v2h-3zM209 204h3v2h-3zM212 203h4v2h-4zM216 202h4v2h-4zM220 201h3v2h-3zM223 200h4v2h-4zM227 199h4v2h-4zM231 198h5v2h-5zM236 197h5v2h-5zM241 196h5v2h-5zM246 195h5v2h-5zM251 194h5v2h-5zM256 193h9v2h-9zM265 192h9v2h-9zM274 191h7v2h-7zM281 190h6v2h-6zM287 189h6v2h-6zM293 188h9v2h-9zM302 187h5v2h-5zM307 186h15v2h-15zM322 185h34v2h-34zM356 184h79v2h-79zM435 185h17v2h-17zM452 186h10v2h-10zM462 187h8v2h-8zM470 188h6v2h-6zM476 189h5v2h-5zM481 190h5v2h-5zM486 191h4v2h-4zM490 192h5v2h-5zM495 193h4v2h-4zM499 194h8v2h-8zM507 195h5v2h-5zM512 196h4v2h-4zM516 197h6v2h-6zM522 198h5v2h-5zM527 199h4v2h-4zM531 200h5v2h-5zM536 201h4v2h-4zM540 202h5v2h-5zM545 203h4v2h-4zM549 204h3v2h-3zM552 205h3v2h-3zM555 206h3v2h-3zM558 207h4v2h-4zM562 208h4v2h-4zM566 209h4v2h-4zM570 210h4v2h-4zM574 211h5v2h-5zM579 212h4v2h-4zM583 213h4v2h-4zM587 214h4v2h-4zM591 215h5v2h-5zM596 216h8v2h-8zM604 217h10v2h-10zM614 218h6v2h-6zM620 219h4v2h-4zM624 220h6v2h-6zM630 221h4v2h-4zM634 222h6v2h-6zM640 223h6v2h-6zM646 224h6v2h-6zM652 225h7v2h-7zM659 226h10v2h-10zM669 227h9v2h-9zM678 228h6v2h-6zM684 229h6v2h-6zM690 230h5v2h-5zM695 231h9v2h-9zM704 232h6v2h-6zM710 233h5v2h-5zM715 234h5v2h-5zM720 235h8v2h-8z" fill="#000"/>
<rect x="3" y="88" width="751" height="1" fill="#006400"/>
<rect x="3.5" y="86.5" width="4" height="4" fill="#fff" stroke="#006400" stroke-width="1"/>
<rect x="749.5" y="86.5" width="4" height="4" fill="#fff" stroke="#006400" stroke-width="1"/>
<rect x="756" y="82" width="41" height="11" fill="#006400"/>
<rect x="3" y="132" width="751" height="1" fill="#006400"/>
<rect x="3.5" y="130.5" width="4" height="4" fill="#fff" stroke="#006400" stroke-width="1"/>
<rect x="749.5" y="130.5" width="4" height="4" fill="#fff" stroke="#006400" stroke-width="1"/>
<rect x="756" y="126" width="41" height="11" fill="#006400"/>
<rect x="3" y="168" width="751" height="1" fill="#006400"/>
<rect x="3.5" y="166.5" width="4" height="4" fill="#fff" stroke="#006400" stroke-width="1"/>
<rect x="749.5" y="166.5" width="4" height="4" fill="#fff" stroke="#006400" stroke-width="1"/>
<rect x="756" y="162" width="41" height="11" fill="#006400"/>
<rect x="3" y="322" width="751" height="1" fill="#ff0000"/>
<rect x="3.5" y="320.5" width="4" height="4" fill="#fff" stroke="#ff0000" stroke-width="1"/>
<rect x="749.5" y="320.5" width="4" height="4" fill="#fff" stroke="#ff0000" stroke-width="1"/>
<rect x="756" y="316" width="41" height="11" fill="#ff0000"/>
<rect x="3" y="370" width="751" height="1" fill="#ff0000"/>
<rect x="3.5" y="368.5" width="4" height="4" fill="#fff" stroke="#ff0000" stroke-width="1"/>
<rect x="749.5" y="368.5" width="4" height="4" fill="#fff" stroke="#ff0000" stroke-width="1"/>
<rect x="756" y="364" width="41" height="11" fill="#ff0000"/>
<rect x="3" y="417" width="751" height="1" fill="#ff0000"/>
<rect x="3.5" y="415.5" width="4" height="4" fill="#fff" stroke="#ff0000" stroke-width="1"/>
<rect x="749.5" y="415.5" width="4" height="4" fill="#fff" stroke="#ff0000" stroke-width="1"/>
<rect x="756" y="411" width="41" height="11" fill="#ff0000"/>
<rect x="756" y="275" width="41" height="11" fill="#000"/>
<g>
<rect x="3" y="459" width="2" height="61" fill="#ff0000"/>
<rect x="6" y="463" width="3" height="57" fill="#ff0000"/>
<rect x="10" y="466" width="3" height="54" fill="#ff0000"/>
<rect x="14" y="468" width="3" height="52" fill="#ff0000"/>
<rect x="18" y="473" width="3" height="47" fill="#ff0000"/>
<rect x="22" y="478" width="3" height="42" fill="#ff0000"/>
<rect x="26" y="482" width="3" height="38" fill="#ff0000"/>
<rect x="30" y="484" width="3" height="36" fill="#ff0000"/>
<rect x="34" y="480" width="3" height="40" fill="#008000"/>
<rect x="38" y="481" width="3" height="39" fill="#ff0000"/>
<rect x="42" y="475" width="3" height="45" fill="#008000"/>
<rect x="46" y="475" width="3" height="45" fill="#008000"/>
<rect x="50" y="478" width="3" height="42" fill="#ff0000"/>
<rect x="54" y="483" width="3" height="37" fill="#ff0000"/>
<rect x="58" y="488" width="3" height="32" fill="#ff0000"/>
<rect x="62" y="491" width="3" height="29" fill="#ff0000"/>
<rect x="66" y="494" width="3" height="26" fill="#ff0000"/>
<rect x="70" y="495" width="3" height="25" fill="#ff0000"/>
<rect x="74" y="495" width="3" height="25" fill="#ff0000"/>
<rect x="78" y="492" width="3" height="28" fill="#008000"/>
<rect x="82" y="491" width="3" height="29" fill="#008000"/>
<rect x="86" y="493" width="3" height="27" fill="#ff0000"/>
<rect x="90" y="497" width="3" height="23" fill="#ff0000"/>
<rect x="94" y="497" width="3" height="23" fill="#ff0000"/>
<rect x="98" y="499" width="3" height="21" fill="#ff0000"/>
<rect x="102" y="500" width="3" height="20" fill="#ff0000"/>
<rect x="106" y="498" width="3" height="22" fill="#008000"/>
<rect x="110" y="497" width="3" height="23" fill="#008000"/>
<rect x="114" y="495" width="3" height="25" fill="#008000"/>
<rect x="118" y="489" width="3" height="31" fill="#008000"/>
<rect x="122" y="485" width="3" height="35" fill="#008000"/>
<rect x="126" y="479" width="3" height="41" fill="#008000"/>
<rect x="130" y="485" width="3" height="35" fill="#ff0000"/>
<rect x="134" y="487" width="3" height="33" fill="#ff0000"/>
<rect x="138" y="488" width="3" height="32" fill="#ff0000"/>
<rect x="142" y="489" width="3" height="31" fill="#ff0000"/>
<rect x="146" y="492" width="3" height="28" fill="#ff0000"/>
<rect x="150" y="497" width="3" height="23" fill="#ff0000"/>
<rect x="154" y="501" width="3" height="19" fill="#ff0000"/>
<rect x="158" y="507" width="3" height="13" fill="#ff0000"/>
<rect x="162" y="510" width="3" height="10" fill="#ff0000"/>
<rect x="166" y="516" width="3" height="4" fill="#ff0000"/>
<rect x="170" y="520" width="3" height="4" fill="#ff0000"/>
<rect x="174" y="520" width="3" height="14" fill="#ff0000"/>
<rect x="178" y="520" width="3" height="16" fill="#ff0000"/>
<rect x="182" y="520" width="3" height="15" fill="#008000"/>
<rect x="186" y="520" width="3" height="25" fill="#ff0000"/>
<rect x="190" y="520" width="3" height="19" fill="#008000"/>
<rect x="194" y="520" width="3" height="30" fill="#ff0000"/>
<rect x="198" y="520" width="3" height="35" fill="#ff0000"/>
<rect x="202" y="520" width="3" height="37" fill="#ff0000"/>
<rect x="206" y="520" width="3" height="40" fill="#ff0000"/>
<rect x="210" y="520" width="3" height="39" fill="#008000"/>
<rect x="214" y="520" width="3" height="36" fill="#008000"/>
<rect x="218" y="520" width="3" height="35" fill="#008000"/>
<rect x="222" y="520" width="3" height="34" fill="#008000"/>
<rect x="226" y="520" width="3" height="30" fill="#008000"/>
<rect x="230" y="520" width="3" height="28" fill="#008000"/>
<rect x="234" y="520" width="3" height="27" fill="#008000"/>
<rect x="238" y="520" width="3" height="26" fill="#008000"/>
<rect x="242" y="520" width="3" height="25" fill="#008000"/>
<rect x="246" y="520" width="3" height="25" fill="#ff0000"/>
<rect x="250" y="520" width="3" height="25" fill="#008000"/>
<rect x="254" y="520" width="3" height="31" fill="#ff0000"/>
<rect x="258" y="520" width="3" height="36" fill="#ff0000"/>
<rect x="262" y="520" width="3" height="43" fill="#ff0000"/>
<rect x="266" y="520" width="3" height="48" fill="#ff0000"/>
<rect x="270" y="520" width="3" height="54" fill="#ff0000"/>
<rect x="274" y="520" width="3" height="52" fill="#008000"/>
<rect x="278" y="520" width="3" height="50" fill="#008000"/>
<rect x="282" y="520" width="3" height="41" fill="#008000"/>
<rect x="286" y="520" width="3" height="30" fill="#008000"/>
<rect x="290" y="520" width="3" height="19" fill="#008000"/>
<rect x="294" y="520" width="3" height="11" fill="#008000"/>
<rect x="298" y="520" width="3" height="9" fill="#008000"/>
<rect x="302" y="520" width="3" height="7" fill="#008000"/>
<rect x="306" y="520" width="3" height="9" fill="#ff0000"/>
<rect x="310" y="520" width="3" height="10" fill="#ff0000"/>
<rect x="314" y="520" width="3" height="10" fill="#ff0000"/>
<rect x="318" y="520" width="3" height="8" fill="#008000"/>
<rect x="322" y="520" width="3" height="8" fill="#008000"/>
<rect x="326" y="520" width="3" height="6" fill="#008000"/>
<rect x="330" y="520" width="3" height="5" fill="#008000"/>
<rect x="334" y="520" width="3" height="5" fill="#008000"/>
<rect x="338" y="520" width="3" height="5" fill="#ff0000"/>
<rect x="342" y="520" width="3" height="7" fill="#ff0000"/>
<rect x="346" y="520" width="3" height="4" fill="#008000"/>
<rect x="350" y="517" width="3" height="3" fill="#008000"/>
<rect x="354" y="506" width="3" height="14" fill="#008000"/>
<rect x="358" y="498" width="3" height="22" fill="#008000"/>
<rect x="362" y="490" width="3" height="30" fill="#008000"/>
<rect x="366" y="488" width="3" height="32" fill="#008000"/>
<rect x="370" y="487" width="3" height="33" fill="#008000"/>
<rect x="374" y="494" width="3" height="26" fill="#ff0000"/>
<rect x="378" y="497" width="3" height="23" fill="#ff0000"/>
<rect x="382" y="499" width="3" height="21" fill="#ff0000"/>
<rect x="386" y="498" width="3" height="22" fill="#008000"/>
<rect x="390" y="499" width="3" height="21" fill="#ff0000"/>
<rect x="394" y="500" width="3" height="20" fill="#ff0000"/>
<rect x="398" y="500" width="3" height="20" fill="#ff0000"/>
<rect x="402" y="500" width="3" height="20" fill="#008000"/>
<rect x="406" y="500" width="3" height="20" fill="#ff0000"/>
<rect x="410" y="501" width="3" height="19" fill="#ff0000"/>
<rect x="414" y="503" width="3" height="17" fill="#ff0000"/>
<rect x="418" y="504" width="3" height="16" fill="#ff0000"/>
<rect x="422" y="506" width="3" height="14" fill="#ff0000"/>
<rect x="426" y="507" width="3" height="13" fill="#ff0000"/>
<rect x="430" y="508" width="3" height="12" fill="#ff0000"/>
<rect x="434" y="513" width="3" height="7" fill="#ff0000"/>
<rect x="438" y="517" width="3" height="3" fill="#ff0000"/>
<rect x="442" y="520" width="3" height="4" fill="#ff0000"/>
<rect x="446" y="520" width="3" height="3" fill="#008000"/>
<rect x="450" y="520" width="3" height="2" fill="#008000"/>
<rect x="454" y="520" width="3" height="5" fill="#ff0000"/>
<rect x="458" y="520" width="3" height="5" fill="#008000"/>
<rect x="462" y="520" width="3" height="8" fill="#ff0000"/>
<rect x="466" y="520" width="3" height="18" fill="#ff0000"/>
<rect x="470" y="520" width="3" height="28" fill="#ff0000"/>
<rect x="474" y="520" width="3" height="36" fill="#ff0000"/>
<rect x="478" y="520" width="3" height="43" fill="#ff0000"/>
<rect x="482" y="520" width="3" height="44" fill="#ff0000"/>
<rect x="486" y="520" width="3" height="43" fill="#008000"/>
<rect x="490" y="520" width="3" height="41" fill="#008000"/>
<rect x="494" y="520" width="3" height="40" fill="#008000"/>
<rect x="498" y="520" width="3" height="37" fill="#008000"/>
<rect x="502" y="520" width="3" height="34" fill="#008000"/>
<rect x="506" y="520" width="3" height="28" fill="#008000"/>
<rect x="510" y="520" width="3" height="22" fill="#008000"/>
<rect x="514" y="520" width="3" height="20" fill="#008000"/>
<rect x="518" y="520" width="3" height="16" fill="#008000"/>
<rect x="522" y="520" width="3" height="16" fill="#008000"/>
<rect x="526" y="520" width="3" height="17" fill="#ff0000"/>
<rect x="530" y="520" width="3" height="19" fill="#ff0000"/>
<rect x="534" y="520" width="3" height="18" fill="#008000"/>
<rect x="538" y="520" width="3" height="17" fill="#008000"/>
<rect x="542" y="520" width="3" height="24" fill="#ff0000"/>
<rect x="546" y="520" width="3" height="26" fill="#ff0000"/>
<rect x="550" y="520" width="3" height="32" fill="#ff0000"/>
<rect x="554" y="520" width="3" height="35" fill="#ff0000"/>
<rect x="558" y="520" width="3" height="41" fill="#ff0000"/>
<rect x="562" y="520" width="3" height="43" fill="#ff0000"/>
<rect x="566" y="520" width="3" height="41" fill="#008000"/>
<rect x="570" y="520" width="3" height="41" fill="#ff0000"/>
<rect x="574" y="520" width="3" height="42" fill="#ff0000"/>
<rect x="578" y="520" width="3" height="41" fill="#008000"/>
<rect x="582" y="520" width="3" height="42" fill="#ff0000"/>
<rect x="586" y="520" width="3" height="43" fill="#ff0000"/>
<rect x="590" y="520" width="3" height="42" fill="#008000"/>
<rect x="594" y="520" width="3" height="44" fill="#ff0000"/>
<rect x="598" y="520" width="3" height="43" fill="#008000"/>
<rect x="602" y="520" width="3" height="39" fill="#008000"/>
<rect x="606" y="520" width="3" height="36" fill="#008000"/>
<rect x="610" y="520" width="3" height="31" fill="#008000"/>
<rect x="614" y="520" width="3" height="29" fill="#008000"/>
<rect x="618" y="520" width="3" height="27" fill="#008000"/>
<rect x="622" y="520" width="3" height="25" fill="#008000"/>
<rect x="626" y="520" width="3" height="22" fill="#008000"/>
<rect x="630" y="520" width="3" height="22" fill="#ff0000"/>
<rect x="634" y="520" width="3" height="21" fill="#008000"/>
<rect x="638" y="520" width="3" height="19" fill="#008000"/>
<rect x="642" y="520" width="3" height="26" fill="#ff0000"/>
<rect x="646" y="520" width="3" height="24" fill="#008000"/>
<rect x="650" y="520" width="3" height="26" fill="#ff0000"/>
<rect x="654" y="520" width="3" height="22" fill="#008000"/>
<rect x="658" y="520" width="3" height="18" fill="#008000"/>
<rect x="662" y="520" width="3" height="19" fill="#ff0000"/>
<rect x="666" y="520" width="3" height="20" fill="#ff0000"/>
<rect x="670" y="520" width="3" height="21" fill="#008000"/>
<rect x="674" y="520" width="3" height="21" fill="#ff0000"/>
<rect x="678" y="520" width="3" height="20" fill="#008000"/>
<rect x="682" y="520" width="3" height="20" fill="#008000"/>
<rect x="686" y="520" width="3" height="18" fill="#008000"/>
<rect x="690" y="520" width="3" height="18" fill="#008000"/>
<rect x="694" y="520" width="3" height="16" fill="#008000"/>
<rect x="698" y="520" width="3" height="14" fill="#008000"/>
<rect x="702" y="520" width="3" height="13" fill="#008000"/>
<rect x="706" y="520" width="3" height="14" fill="#ff0000"/>
<rect x="710" y="520" width="3" height="13" fill="#008000"/>
<rect x="714" y="520" width="3" height="11" fill="#008000"/>
<rect x="718" y="520" width="3" height="11" fill="#008000"/>
<rect x="722" y="520" width="3" height="9" fill="#008000"/>
</g>
<path d="M3 453h1v1h-1zM4 454h1v1h-1zM5 455h1v1h-1zM6 456h1v1h-1zM7 457h1v1h-1zM8 458h1v1h-1zM9 459h1v1h-1zM10 459h1v1h-1zM11 460h1v1h-1zM12 461h1v1h-1zM13 461h1v1h-1zM14 462h1v1h-1zM15 462h1v1h-1zM16 463h1v1h-1zM17 464h1v1h-1zM18 465h1v1h-1zM19 466h1v1h-1zM20 467h1v1h-1zM21 468h1v1h-1zM22 469h1v1h-1zM23 470h1v1h-1zM24 471h1v1h-1zM25 472h1v1h-1zM26 473h1v1h-1zM27 474h1v1h-1zM28 475h1v1h-1zM29 476h1v1h-1zM30 476h1v1h-1zM31 477h1v1h-1zM32 478h1v1h-1zM33 478h1v1h-1zM34 479h1v1h-1zM35 479h1v1h-1zM36 479h1v1h-1zM37 480h1v1h-1zM38 480h1v1h-1zM39 480h1v1h-1zM40 480h1v1h-1zM41 480h1v1h-1zM42 480h1v1h-1zM43 480h1v1h-1zM44 480h1v1h-1zM45 479h1v1h-1zM46 479h1v1h-1zM47 479h1v1h-1zM48 479h1v1h-1zM49 478h1v1h-1zM50 478h1v1h-1zM51 478h1v1h-1zM52 478h1v1h-1zM53 479h1v1h-1zM54 479h1v1h-1zM55 479h1v1h-1zM56 479h1v1h-1zM57 480h1v1h-1zM58 480h1v1h-1zM59 480h1v1h-1zM60 481h1v1h-1zM61 482h1v1h-1zM62 483h1v1h-1zM63 484h1v1h-1zM64 485h1v1h-1zM65 486h1v1h-1zM66 486h1v1h-1zM67 487h1v1h-1zM68 488h1v1h-1zM69 489h1v1h-1zM70 489h1v1h-1zM71 490h1v1h-1zM72 491h1v1h-1zM73 492h1v1h-1zM74 492h1v1h-1zM75 493h1v1h-1zM76 493h1v1h-1zM77 493h1v1h-1zM78 493h1v1h-1zM79 493h1v1h-1zM80 493h1v1h-1zM81 493h1v1h-1zM82 493h1v1h-1zM83 493h1v1h-1zM84 493h1v1h-1zM85 493h1v1h-1zM86 493h1v1h-1zM87 493h1v1h-1zM88 493h1v1h-1zM89 494h1v1h-1zM90 494h1v1h-1zM91 494h1v1h-1zM92 494h1v1h-1zM93 494h1v1h-1zM94 494h1v1h-1zM95 494h1v1h-1zM96 495h1v1h-1zM97 495h1v1h-1zM98 496h1v1h-1zM99 496h1v1h-1zM100 496h1v1h-1zM101 497h1v1h-1zM102 497h1v1h-1zM103 497h1v1h-1zM104 497h1v1h-1zM105 498h1v1h-1zM106 498h1v1h-1zM107 498h1v1h-1zM108 498h1v1h-1zM109 498h1v1h-1zM110 498h1v1h-1zM111 498h1v1h-1zM112 498h1v1h-1zM113 498h1v1h-1zM114 498h1v1h-1zM115 498h1v1h-1zM116 497h1v1h-1zM117 497h1v1h-1zM118 496h1v1h-1zM119 496h1v1h-1zM120 495h1v1h-1zM121 494h1v1h-1zM122 493h1v1h-1zM123 492h1v1h-1zM124 491h1v1h-1zM125 490h1v1h-1zM126 489h1v1h-1zM127 488h1v1h-1zM128 487h1v1h-1zM129 487h1v1h-1zM130 486h1v1h-1zM131 486h1v1h-1zM132 486h1v1h-1zM133 485h1v1h-1zM134 485h1v1h-1zM135 485h1v1h-1zM136 485h1v1h-1zM137 485h1v1h-1zM138 485h1v1h-1zM139 485h1v1h-1zM140 485h1v1h-1zM141 486h1v1h-1zM142 486h1v1h-1zM143 486h1v1h-1zM144 487h1v1h-1zM145 487h1v1h-1zM146 488h1v1h-1zM147 488h1v1h-1zM148 489h1v1h-1zM149 490h1v1h-1zM150 490h1v1h-1zM151 491h1v1h-1zM152 492h1v1h-1zM153 492h1v1h-1zM154 493h1v1h-1zM155 493h1v1h-1zM156 494h1v1h-1zM157 495h1v2h-1zM158 497h1v1h-1zM159 498h1v1h-1zM160 499h1v1h-1zM161 500h1v1h-1zM162 501h1v1h-1zM163 502h1v1h-1zM164 503h1v1h-1zM165 504h1v2h-1zM166 506h1v1h-1zM167 507h1v1h-1zM168 508h1v1h-1zM169 509h1v2h-1zM170 511h1v1h-1zM171 512h1v1h-1zM172 513h1v2h-1zM173 515h1v2h-1zM174 517h1v2h-1zM175 519h1v1h-1zM176 520h1v1h-1zM177 521h1v1h-1zM178 522h1v1h-1zM179 523h1v1h-1zM180 524h1v2h-1zM181 526h1v1h-1zM182 527h1v2h-1zM183 529h1v1h-1zM184 530h1v1h-1zM185 531h1v2h-1zM186 533h1v1h-1zM187 534h1v1h-1zM188 535h1v1h-1zM189 536h1v1h-1zM190 537h1v1h-1zM191 538h1v1h-1zM192 539h1v1h-1zM193 540h1v1h-1zM194 540h1v1h-1zM195 541h1v1h-1zM196 542h1v1h-1zM197 543h1v1h-1zM198 544h1v1h-1zM199 545h1v1h-1zM200 546h1v1h-1zM201 547h1v1h-1zM202 547h1v1h-1zM203 548h1v1h-1zM204 549h1v1h-1zM205 550h1v1h-1zM206 551h1v1h-1zM207 552h1v1h-1zM208 553h1v1h-1zM209 554h1v1h-1zM210 554h1v1h-1zM211 555h1v1h-1zM212 556h1v1h-1zM213 556h1v1h-1zM214 557h1v1h-1zM215 557h1v1h-1zM216 557h1v1h-1zM217 557h1v1h-1zM218 557h1v1h-1zM219 557h1v1h-1zM220 557h1v1h-1zM221 556h1v1h-1zM222 556h1v1h-1zM223 556h1v1h-1zM224 555h1v1h-1zM225 555h1v1h-1zM226 554h1v1h-1zM227 554h1v1h-1zM228 553h1v1h-1zM229 553h1v1h-1zM230 552h1v1h-1zM231 552h1v1h-1zM232 551h1v1h-1zM233 551h1v1h-1zM234 550h1v1h-1zM235 550h1v1h-1zM236 549h1v1h-1zM237 549h1v1h-1zM238 548h1v1h-1zM239 548h1v1h-1zM240 547h1v1h-1zM241 547h1v1h-1zM242 546h1v1h-1zM243 546h1v1h-1zM244 546h1v1h-1zM245 545h1v1h-1zM246 545h1v1h-1zM247 545h1v1h-1zM248 545h1v1h-1zM249 545h1v1h-1zM250 545h1v1h-1zM251 545h1v1h-1zM252 545h1v1h-1zM253 546h1v1h-1zM254 546h1v1h-1zM255 546h1v1h-1zM256 547h1v1h-1zM257 547h1v1h-1zM258 548h1v1h-1zM259 548h1v1h-1zM260 549h1v1h-1zM261 550h1v1h-1zM262 551h1v1h-1zM263 552h1v1h-1zM264 553h1v1h-1zM265 554h1v2h-1zM266 556h1v1h-1zM267 557h1v1h-1zM268 558h1v1h-1zM269 559h1v2h-1zM270 561h1v1h-1zM271 562h1v1h-1zM272 563h1v1h-1zM273 564h1v1h-1zM274 564h1v1h-1zM275 565h1v1h-1zM276 566h1v1h-1zM277 567h1v1h-1zM278 567h1v1h-1zM279 568h1v1h-1zM280 568h1v1h-1zM281 568h1v1h-1zM282 568h1v1h-1zM283 568h1v1h-1zM284 567h1v1h-1zM285 565h1v2h-1zM286 564h1v1h-1zM287 563h1v1h-1zM288 561h1v2h-1zM289 559h1v2h-1zM290 557h1v2h-1zM291 556h1v1h-1zM292 554h1v2h-1zM293 552h1v2h-1zM294 550h1v2h-1zM295 548h1v2h-1zM296 546h1v2h-1zM297 544h1v2h-1zM298 542h1v2h-1zM299 541h1v1h-1zM300 539h1v2h-1zM301 537h1v2h-1zM302 535h1v2h-1zM303 534h1v1h-1zM304 533h1v1h-1zM305 532h1v1h-1zM306 531h1v1h-1zM307 530h1v1h-1zM308 529h1v1h-1zM309 529h1v1h-1zM310 528h1v1h-1zM311 528h1v1h-1zM312 528h1v1h-1zM313 528h1v1h-1zM314 528h1v1h-1zM315 528h1v1h-1zM316 528h1v1h-1zM317 528h1v1h-1zM318 528h1v1h-1zM319 528h1v1h-1zM320 528h1v1h-1zM321 528h1v1h-1zM322 528h1v1h-1zM323 528h1v1h-1zM324 528h1v1h-1zM325 528h1v1h-1zM326 528h1v1h-1zM327 528h1v1h-1zM328 528h1v1h-1zM329 527h1v1h-1zM330 527h1v1h-1zM331 527h1v1h-1zM332 527h1v1h-1zM333 526h1v1h-1zM334 526h1v1h-1zM335 526h1v1h-1zM336 526h1v1h-1zM337 525h1v1h-1zM338 525h1v1h-1zM339 525h1v1h-1zM340 525h1v1h-1zM341 525h1v1h-1zM342 525h1v1h-1zM343 525h1v1h-1zM344 525h1v1h-1zM345 524h1v1h-1zM346 524h1v1h-1zM347 524h1v1h-1zM348 524h1v1h-1zM349 523h1v1h-1zM350 523h1v1h-1zM351 523h1v1h-1zM352 522h1v1h-1zM353 521h1v1h-1zM354 520h1v1h-1zM355 519h1v1h-1zM356 517h1v2h-1zM357 515h1v2h-1zM358 513h1v2h-1zM359 512h1v1h-1zM360 510h1v2h-1zM361 508h1v2h-1zM362 506h1v2h-1zM363 505h1v1h-1zM364 503h1v2h-1zM365 501h1v2h-1zM366 499h1v2h-1zM367 498h1v1h-1zM368 497h1v1h-1zM369 495h1v2h-1zM370 494h1v1h-1zM371 493h1v1h-1zM372 493h1v1h-1zM373 492h1v1h-1zM374 492h1v1h-1zM375 492h1v1h-1zM376 492h1v1h-1zM377 491h1v1h-1zM378 491h1v1h-1zM379 491h1v1h-1zM380 492h1v1h-1zM381 492h1v1h-1zM382 493h1v1h-1zM383 493h1v1h-1zM384 494h1v1h-1zM385 494h1v1h-1zM386 495h1v1h-1zM387 495h1v1h-1zM388 496h1v1h-1zM389 496h1v1h-1zM390 497h1v1h-1zM391 497h1v1h-1zM392 498h1v1h-1zM393 498h1v1h-1zM394 499h1v1h-1zM395 499h1v1h-1zM396 499h1v1h-1zM397 499h1v1h-1zM398 499h1v1h-1zM399 499h1v1h-1zM400 499h1v1h-1zM401 499h1v1h-1zM402 499h1v1h-1zM403 499h1v1h-1zM404 499h1v1h-1zM405 499h1v1h-1zM406 499h1v1h-1zM407 499h1v1h-1zM408 499h1v1h-1zM409 500h1v1h-1zM410 500h1v1h-1zM411 500h1v1h-1zM412 500h1v1h-1zM413 500h1v1h-1zM414 500h1v1h-1zM415 500h1v1h-1zM416 500h1v1h-1zM417 501h1v1h-1zM418 501h1v1h-1zM419 501h1v1h-1zM420 501h1v1h-1zM421 502h1v1h-1zM422 502h1v1h-1zM423 502h1v1h-1zM424 503h1v1h-1zM425 503h1v1h-1zM426 504h1v1h-1zM427 504h1v1h-1zM428 504h1v1h-1zM429 505h1v1h-1zM430 505h1v1h-1zM431 505h1v1h-1zM432 506h1v1h-1zM433 507h1v1h-1zM434 507h1v1h-1zM435 508h1v1h-1zM436 509h1v1h-1zM437 509h1v1h-1zM438 510h1v1h-1zM439 510h1v1h-1zM440 511h1v1h-1zM441 512h1v1h-1zM442 513h1v1h-1zM443 514h1v1h-1zM444 515h1v1h-1zM445 516h1v1h-1zM446 516h1v1h-1zM447 517h1v1h-1zM448 518h1v1h-1zM449 518h1v1h-1zM450 519h1v1h-1zM451 519h1v1h-1zM452 520h1v1h-1zM453 520h1v1h-1zM454 521h1v1h-1zM455 521h1v1h-1zM456 521h1v1h-1zM457 522h1v1h-1zM458 522h1v1h-1zM459 522h1v1h-1zM460 522h1v1h-1zM461 523h1v1h-1zM462 523h1v1h-1zM463 523h1v1h-1zM464 524h1v1h-1zM465 525h1v1h-1zM466 526h1v1h-1zM467 527h1v1h-1zM468 528h1v2h-1zM469 530h1v1h-1zM470 531h1v2h-1zM471 533h1v1h-1zM472 534h1v2h-1zM473 536h1v1h-1zM474 537h1v2h-1zM475 539h1v1h-1zM476 540h1v2h-1zM477 542h1v2h-1zM478 544h1v2h-1zM479 546h1v2h-1zM480 548h1v2h-1zM481 550h1v1h-1zM482 551h1v2h-1zM483 553h1v1h-1zM484 554h1v1h-1zM485 555h1v2h-1zM486 557h1v1h-1zM487 558h1v1h-1zM488 559h1v1h-1zM489 560h1v1h-1zM490 560h1v1h-1zM491 561h1v1h-1zM492 561h1v1h-1zM493 561h1v1h-1zM494 561h1v1h-1zM495 561h1v1h-1zM496 561h1v1h-1zM497 560h1v1h-1zM498 560h1v1h-1zM499 560h1v1h-1zM500 559h1v1h-1zM501 559h1v1h-1zM502 558h1v1h-1zM503 558h1v1h-1zM504 557h1v1h-1zM505 556h1v1h-1zM506 556h1v1h-1zM507 555h1v1h-1zM508 554h1v1h-1zM509 553h1v1h-1zM510 552h1v1h-1zM511 551h1v1h-1zM512 550h1v1h-1zM513 549h1v1h-1zM514 548h1v1h-1zM515 547h1v1h-1zM516 546h1v1h-1zM517 544h1v2h-1zM518 543h1v1h-1zM519 542h1v1h-1zM520 541h1v1h-1zM521 540h1v1h-1zM522 539h1v1h-1zM523 538h1v1h-1zM524 538h1v1h-1zM525 537h1v1h-1zM526 537h1v1h-1zM527 537h1v1h-1zM528 537h1v1h-1zM529 537h1v1h-1zM530 537h1v1h-1zM531 537h1v1h-1zM532 537h1v1h-1zM533 536h1v1h-1zM534 536h1v1h-1zM535 536h1v1h-1zM536 536h1v1h-1zM537 537h1v1h-1zM538 537h1v1h-1zM539 537h1v1h-1zM540 537h1v1h-1zM541 538h1v1h-1zM542 538h1v1h-1zM543 538h1v1h-1zM544 539h1v1h-1zM545 539h1v1h-1zM546 540h1v1h-1zM547 540h1v1h-1zM548 541h1v1h-1zM549 541h1v1h-1zM550 542h1v1h-1zM551 542h1v1h-1zM552 543h1v1h-1zM553 544h1v2h-1zM554 546h1v1h-1zM555 547h1v1h-1zM556 548h1v1h-1zM557 549h1v1h-1zM558 550h1v1h-1zM559 551h1v1h-1zM560 552h1v1h-1zM561 553h1v1h-1zM562 554h1v1h-1zM563 555h1v1h-1zM564 556h1v1h-1zM565 556h1v1h-1zM566 557h1v1h-1zM567 557h1v1h-1zM568 558h1v1h-1zM569 558h1v1h-1zM570 559h1v1h-1zM571 559h1v1h-1zM572 559h1v1h-1zM573 560h1v1h-1zM574 560h1v1h-1zM575 560h1v1h-1zM576 560h1v1h-1zM577 560h1v1h-1zM578 560h1v1h-1zM579 560h1v1h-1zM580 560h1v1h-1zM581 560h1v1h-1zM582 560h1v1h-1zM583 560h1v1h-1zM584 560h1v1h-1zM585 561h1v1h-1zM586 561h1v1h-1zM587 561h1v1h-1zM588 561h1v1h-1zM589 561h1v1h-1zM590 561h1v1h-1zM591 561h1v1h-1zM592 561h1v1h-1zM593 562h1v1h-1zM594 562h1v1h-1zM595 562h1v1h-1zM596 562h1v1h-1zM597 562h1v1h-1zM598 562h1v1h-1zM599 562h1v1h-1zM600 562h1v1h-1zM601 561h1v1h-1zM602 561h1v1h-1zM603 561h1v1h-1zM604 561h1v1h-1zM605 560h1v1h-1zM606 560h1v1h-1zM607 560h1v1h-1zM608 559h1v1h-1zM609 558h1v1h-1zM610 558h1v1h-1zM611 557h1v1h-1zM612 556h1v1h-1zM613 555h1v1h-1zM614 554h1v1h-1zM615 553h1v1h-1zM616 552h1v1h-1zM617 552h1v1h-1zM618 551h1v1h-1zM619 551h1v1h-1zM620 550h1v1h-1zM621 549h1v1h-1zM622 549h1v1h-1zM623 548h1v1h-1zM624 547h1v1h-1zM625 547h1v1h-1zM626 546h1v1h-1zM627 546h1v1h-1zM628 545h1v1h-1zM629 545h1v1h-1zM630 544h1v1h-1zM631 544h1v1h-1zM632 543h1v1h-1zM633 543h1v1h-1zM634 542h1v1h-1zM635 542h1v1h-1zM636 542h1v1h-1zM637 541h1v1h-1zM638 541h1v1h-1zM639 541h1v1h-1zM640 541h1v1h-1zM641 541h1v1h-1zM642 541h1v1h-1zM643 541h1v1h-1zM644 541h1v1h-1zM645 542h1v1h-1zM646 542h1v1h-1zM647 542h1v1h-1zM648 542h1v1h-1zM649 542h1v1h-1zM650 542h1v1h-1zM651 542h1v1h-1zM652 542h1v1h-1zM653 542h1v1h-1zM654 542h1v1h-1zM655 542h1v1h-1zM656 542h1v1h-1zM657 541h1v1h-1zM658 541h1v1h-1zM659 541h1v1h-1zM660 541h1v1h-1zM661 540h1v1h-1zM662 540h1v1h-1zM663 540h1v1h-1zM664 540h1v1h-1zM665 539h1v1h-1zM666 539h1v1h-1zM667 539h1v1h-1zM668 539h1v1h-1zM669 539h1v1h-1zM670 539h1v1h-1zM671 539h1v1h-1zM672 539h1v1h-1zM673 539h1v1h-1zM674 539h1v1h-1zM675 539h1v1h-1zM676 539h1v1h-1zM677 540h1v1h-1zM678 540h1v1h-1zM679 540h1v1h-1zM680 540h1v1h-1zM681 540h1v1h-1zM682 540h1v1h-1zM683 540h1v1h-1zM684 540h1v1h-1zM685 539h1v1h-1zM686 539h1v1h-1zM687 539h1v1h-1zM688 539h1v1h-1zM689 538h1v1h-1zM690 538h1v1h-1zM691 538h1v1h-1zM692 538h1v1h-1zM693 537h1v1h-1zM694 537h1v1h-1zM695 537h1v1h-1zM696 537h1v1h-1zM697 536h1v1h-1zM698 536h1v1h-1zM699 536h1v1h-1zM700 536h1v1h-1zM701 535h1v1h-1zM702 535h1v1h-1zM703 535h1v1h-1zM704 535h1v1h-1zM705 534h1v1h-1zM706 534h1v1h-1zM707 534h1v1h-1zM708 534h1v1h-1zM709 533h1v1h-1zM710 533h1v1h-1zM711 533h1v1h-1zM712 533h1v1h-1zM713 532h1v1h-1zM714 532h1v1h-1zM715 532h1v1h-1zM716 532h1v1h-1zM717 531h1v1h-1zM718 531h1v1h-1zM719 531h1v1h-1zM720 531h1v1h-1zM721 531h1v1h-1zM722 531h1v1h-1zM723 531h1v1h-1zM724 530h1v1h-1zM725 530h1v1h-1zM726 529h1v1h-1zM727 529h1v1h-1z" fill="#000"/>
<rect x="6" y="9" width="7" height="1"/><rect x="7" y="10" width="5" height="1"/><rect x="8" y="11" width="3" height="1"/><rect x="9" y="12" width="1" height="1"/>
</svg>
<div class="t p w" style="left:760px;top:82.4px">1.12680</div>
<div class="t p w" style="left:760px;top:126.4px">1.12310</div>
<div class="t p w" style="left:760px;top:162.4px">1.12010</div>
<div class="t p w" style="left:760px;top:316.4px">1.10720</div>
<div class="t p w" style="left:760px;top:364.4px">1.10320</div>
<div class="t p w" style="left:760px;top:411.4px">1.09920</div>
<div class="t p w" style="left:760px;top:274.4px">1.11067</div>
</body></html>
